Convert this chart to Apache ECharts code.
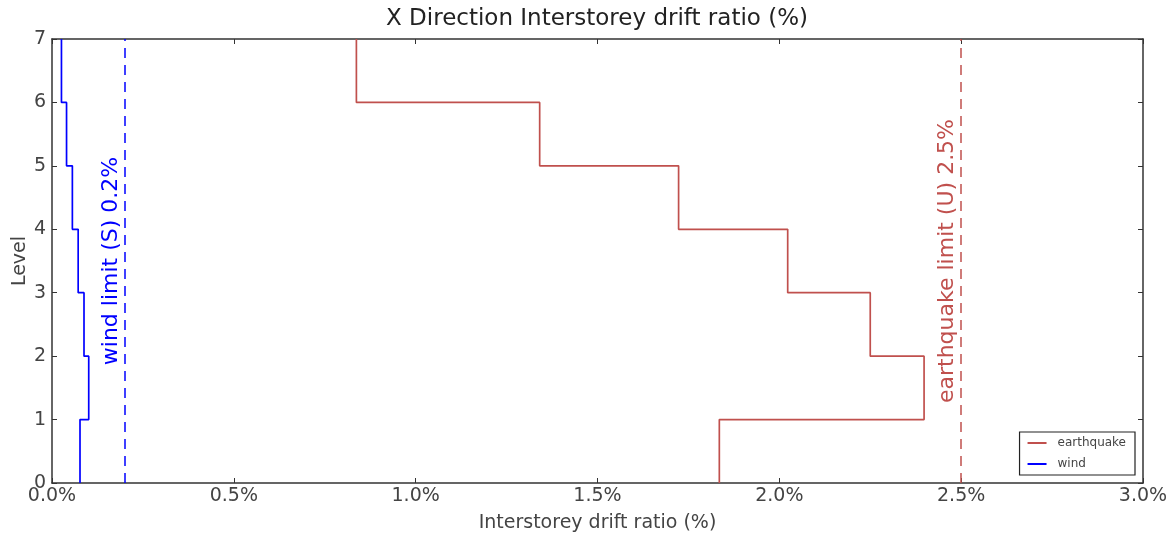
<!DOCTYPE html>
<html><head><meta charset="utf-8">
<script src="https://cdn.jsdelivr.net/npm/echarts@6/dist/echarts.min.js"></script>
<style>html,body{margin:0;padding:0;background:#fff}#c{width:1170px;height:536px}</style>
</head><body><div id="c"></div>
<script>
const levels = [0, 1, 2, 3, 4, 5, 6, 7];
const earthquake = [1.835, 2.398, 2.250, 2.023, 1.723, 1.341, 0.837];
const wind = [0.077, 0.101, 0.088, 0.072, 0.056, 0.040, 0.026];
const windLimit = 0.2;
const quakeLimit = 2.5;
const xTicks = [0, 0.5, 1.0, 1.5, 2.0, 2.5, 3.0];

function stepPoints(vals) {
  const pts = [];
  for (let i = 0; i < vals.length; i++) {
    pts.push([vals[i], levels[i]]);
    pts.push([vals[i], levels[i + 1]]);
  }
  return pts;
}
const RED = '#c0504d', BLUE = '#0000ff';
const font = 'DejaVu Sans';
const TXT = '#444';
const chart = echarts.init(document.getElementById('c'));
const axisLine = { show: true, onZero: false, lineStyle: { color: '#333', width: 1.5 } };
const axisTick = { inside: true, length: 5, lineStyle: { color: '#333' } };
chart.setOption({
  animation: false,
  textStyle: { fontFamily: font },
  title: { text: 'X Direction Interstorey drift ratio (%)', left: 592, textAlign: 'center', top: 3,
    textStyle: { fontFamily: font, fontSize: 23, fontWeight: 'normal', color: '#222' } },
  grid: { left: 52, right: 27, top: 39, bottom: 53, containLabel: false, outerBoundsMode: 'none' },
  legend: {
    orient: 'vertical', right: 35, top: 432, padding: [5, 9, 5, 8],
    borderColor: '#222', borderWidth: 1.2, itemWidth: 19, itemHeight: 2, itemGap: 9,
    icon: 'rect',
    textStyle: { fontFamily: font, fontSize: 12, color: TXT, padding: [0, 0, 0, 6] },
    data: ['earthquake', 'wind']
  },
  xAxis: [{
    type: 'value', min: 0, max: 3, interval: 0.5, position: 'bottom',
    name: 'Interstorey drift ratio (%)', nameLocation: 'middle', nameGap: 31,
    nameMoveOverlap: false,
    nameTextStyle: { fontFamily: font, fontSize: 19, color: TXT },
    axisLine, axisTick, splitLine: { show: false },
    axisLabel: { fontFamily: font, fontSize: 19, color: TXT, margin: 4,
      formatter: v => v.toFixed(1) + '%' }
  }, {
    type: 'value', min: 0, max: 3, interval: 0.5, position: 'top',
    axisLine, axisTick, splitLine: { show: false },
    axisLabel: { show: false }
  }],
  yAxis: [{
    type: 'value', min: 0, max: 7, interval: 1, position: 'left',
    name: 'Level', nameLocation: 'middle', nameGap: 22, nameMoveOverlap: false,
    nameTextStyle: { fontFamily: font, fontSize: 19, color: TXT },
    axisLine, axisTick, splitLine: { show: false },
    axisLabel: { fontFamily: font, fontSize: 19, color: TXT, margin: 6 }
  }, {
    type: 'value', min: 0, max: 7, interval: 1, position: 'right',
    axisLine, axisTick, splitLine: { show: false },
    axisLabel: { show: false }
  }],
  series: [{
    name: 'earthquake', type: 'line', data: stepPoints(earthquake),
    showSymbol: false, lineStyle: { color: RED, width: 1.7 }, itemStyle: { color: RED },
    markLine: {
      silent: true, symbol: ['none', 'none'],
      lineStyle: { color: RED, type: [10, 7], width: 1.5 },
      label: { show: true, position: 'insideMiddleTop', distance: 3,
        formatter: 'earthquake limit (U) ' + quakeLimit + '%',
        color: RED, fontFamily: font, fontSize: 22 },
      data: [{ xAxis: quakeLimit }]
    }
  }, {
    name: 'wind', type: 'line', data: stepPoints(wind),
    showSymbol: false, lineStyle: { color: BLUE, width: 1.7 }, itemStyle: { color: BLUE },
    markLine: {
      silent: true, symbol: ['none', 'none'],
      lineStyle: { color: BLUE, type: [10, 7], width: 1.5 },
      label: { show: true, position: 'insideMiddleTop', distance: 2,
        formatter: 'wind limit (S) ' + windLimit + '%',
        color: BLUE, fontFamily: font, fontSize: 22 },
      data: [{ xAxis: windLimit }]
    }
  }]
});
</script></body></html>
